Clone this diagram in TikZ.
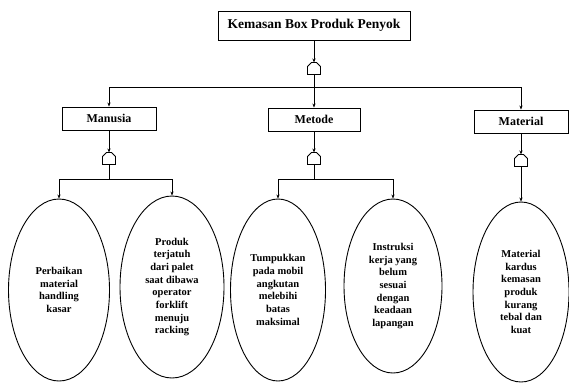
\documentclass[tikz,border=0pt]{standalone}
\usepackage{fontspec}
\setmainfont{Liberation Serif}
\usetikzlibrary{arrows.meta,positioning,shapes.geometric}

\begin{document}
\begin{tikzpicture}[
      x=1pt, y=-1pt,
      kotak/.style={draw, line width=0.9pt, minimum height=23pt, inner sep=2pt,
                    font=\bfseries\fontsize{12}{14}\selectfont},
      gerbang/.style={inner sep=0pt, outer sep=0pt, minimum width=13pt, minimum height=12pt,
                      append after command={
                        (\tikzlastnode.south west) -- ([yshift=-4pt]\tikzlastnode.north west)
                        -- ([xshift=4pt]\tikzlastnode.north west)
                        -- ([xshift=-4pt]\tikzlastnode.north east)
                        -- ([yshift=-4pt]\tikzlastnode.north east)
                        -- (\tikzlastnode.south east) -- cycle}},
      sebab/.style={draw, ellipse, line width=0.9pt, inner sep=0pt, align=center,
                    font=\bfseries\fontsize{10.5}{12.7}\selectfont},
      link/.style={-{Stealth[length=4pt,width=3.2pt]}, line width=0.8pt},
      garis/.style={line width=0.8pt},
    ]
    \useasboundingbox (0,0) rectangle (569,383);
    % puncak
    \node[kotak, minimum width=192pt, minimum height=29pt,
          font=\bfseries\fontsize{13.5}{16}\selectfont] (judul) at (314,25.5) {Kemasan Box Produk Penyok};
    \draw[line width=0.9pt] node[gerbang, below=22pt of judul] (g0) {};
    \coordinate (j0) at (314,87);
    % kategori
    \node[kotak, minimum width=94pt] (manusia) at (109,118.5) {Manusia};
    \node[kotak, minimum width=92pt] (metode) at (314,119.5) {Metode};
    \node[kotak, minimum width=94pt] (material) at (521,121.5) {Material};
    \draw[line width=0.9pt] node[gerbang, below=22pt of manusia] (g1) {};
    \draw[line width=0.9pt] node[gerbang, below=21pt of metode] (g2) {};
    \draw[line width=0.9pt] node[gerbang, below=21pt of material] (g3) {};
    \coordinate (j1) at (109,179);
    \coordinate (j2) at (314,179);
    % penyebab
    \node[sebab, minimum width=101pt, minimum height=182pt] (e1) at (59,290)
      {Perbaikan\\material\\handling\\kasar};
    \node[sebab, minimum width=104pt, minimum height=182pt] (e2) at (172,287)
      {Produk\\terjatuh\\dari palet\\saat dibawa\\operator\\forklift\\menuju\\racking};
    \node[sebab, minimum width=95pt, minimum height=182pt] (e3) at (278,290)
      {Tumpukkan\\pada mobil\\angkutan\\melebihi\\batas\\maksimal};
    \node[sebab, minimum width=98pt, minimum height=174pt] (e4) at (393,286)
      {Instruksi\\kerja yang\\belum\\sesuai\\dengan\\keadaan\\lapangan};
    \node[sebab, minimum width=96pt, minimum height=180pt] (e5) at (521,292)
      {Material\\kardus\\kemasan\\produk\\kurang\\tebal dan\\kuat};
    % hubungan
    \draw[link] (judul) -- (g0);
    \draw[garis] (g0) -- (j0);
    \draw[link] (j0) -- (metode);
    \draw[link] (j0) -| (manusia.north);
    \draw[link] (j0) -| (material.north);
    \draw[link] (manusia) -- (g1);
    \draw[garis] (g1) -- (j1);
    \draw[link] (j1) -| (e1.north);
    \draw[link] (j1) -| (e2.north);
    \draw[link] (metode) -- (g2);
    \draw[garis] (g2) -- (j2);
    \draw[link] (j2) -| (e3.north);
    \draw[link] (j2) -| (e4.north);
    \draw[link] (material) -- (g3);
    \draw[link] (g3) -- (e5);
  \end{tikzpicture}
\end{document}
